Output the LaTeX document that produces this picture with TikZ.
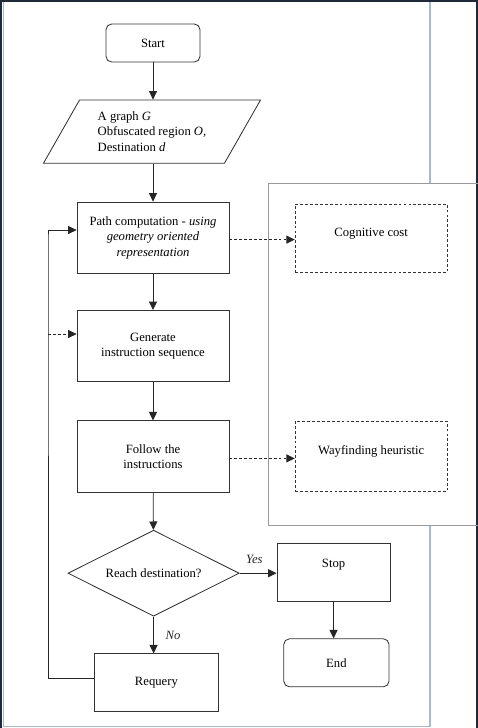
\documentclass[tikz,border=0pt]{standalone}
\usepackage{fontspec}
\setmainfont{Liberation Serif}
\definecolor{framedark}{HTML}{1E2A3A}
\definecolor{frameblue}{HTML}{A9B9CC}
\definecolor{panelgrey}{HTML}{9A9A9A}
\usetikzlibrary{arrows.meta,positioning,shapes.geometric,calc}

\begin{document}
\begin{tikzpicture}[
  font=\fontsize{9}{11}\selectfont,
  proc/.style={rectangle, draw=black!80, line width=0.6pt, minimum width=3.8cm,
    minimum height=1.78cm, align=center, inner sep=2pt},
  term/.style={rectangle, draw=black!80, line width=0.6pt, rounded corners=4pt,
    align=center},
  cost/.style={rectangle, draw=black!80, line width=0.6pt, dash pattern=on 2pt off 1.5pt,
    minimum width=3.8cm, align=center},
  io/.style={trapezium, trapezium left angle=57, trapezium right angle=123,
    trapezium stretches=true, draw=black!80, line width=0.6pt, align=left,
    minimum width=5.43cm, minimum height=1.58cm, inner sep=1pt},
  decide/.style={diamond, draw=black!80, line width=0.6pt, aspect=2, inner sep=0pt,
    minimum width=4.28cm, minimum height=2.15cm, align=center},
  arr/.style={-{Triangle[length=2.1mm,width=2mm]}, line width=0.6pt, black!85},
  darr/.style={arr, dash pattern=on 2pt off 1.5pt}
]
  % frame and side panel
  \useasboundingbox (0,0) rectangle (11.95,-18.2);
  \draw[framedark, line width=1.2pt] (0.02,-18.2) -- (0.02,-0.02) -- (11.93,-0.02) -- (11.93,-18.2);
  \draw[frameblue, line width=0.8pt] (0.09,-0.05) -- (0.09,-18.16) -- (10.75,-18.16) -- (10.75,-13.13);
  \draw[frameblue, line width=0.8pt] (10.75,-0.05) -- (10.75,-4.58);
  \draw[panelgrey, line width=0.6pt] (6.7,-4.58) rectangle (11.95,-13.13);

  \node[term, minimum width=2.35cm, minimum height=0.95cm] (start) at (3.825,-1.075) {Start};
  \node[io] (input) at (3.8,-3.29) {A graph \textit{G}\\Obfuscated region \textit{O},\\Destination \textit{d}};
  \node[proc] (path) at (3.825,-5.94) {Path computation - \textit{using}\\\textit{geometry oriented}\\\textit{representation}};
  \node[proc] (gen) at (3.825,-8.65) {Generate\\instruction sequence};
  \node[proc] (follow) at (3.825,-11.41) {Follow the\\instructions};
  \node[decide] (reach) at (3.84,-14.33) {Reach destination?};
  \node[proc, minimum width=3.08cm, minimum height=1.45cm] (requery) at (3.91,-17.07) {Requery};
  \node[proc, minimum width=2.83cm, minimum height=1.45cm] (stop) at (8.34,-14.3) {Stop\\[2pt]~};
  \node[term, minimum width=2.63cm, minimum height=1.2cm] (end) at (8.41,-16.57) {End};
  \node[cost, minimum height=1.7cm] (cog) at (9.28,-5.95) {Cognitive cost\\[-3.5pt]~};
  \node[cost, minimum height=1.75cm] (way) at (9.28,-11.4) {Wayfinding heuristic\\[-2pt]~};

  \coordinate (loopx) at (1.2,0);

  \draw[arr] (start) -- (start |- input.north);
  \draw[arr] (start |- input.south) -- (path);
  \draw[arr] (path) -- (gen);
  \draw[arr] (gen) -- (follow);
  \draw[arr] (follow) -- (reach);
  \draw[arr] (reach) -- node[right=5pt, font=\fontsize{9}{11}\selectfont\itshape] {No} (reach |- requery.north);
  \draw[arr] (reach) -- node[above=3pt, pos=0.4, font=\fontsize{9}{11}\selectfont\itshape] {Yes} (reach -| stop.west);
  \draw[arr] (stop) -- (stop |- end.north);
  \draw[darr] ([yshift=-0.05cm]path.east) -- ([yshift=-0.05cm]path.east -| cog.west);
  \draw[darr] ([yshift=-0.05cm]follow.east) -- ([yshift=-0.05cm]follow.east -| way.west);
  % requery loop back to path computation
  \draw[arr] ([yshift=0.1cm]requery.west) -| (loopx |- path) |- ([yshift=0.19cm]path.west);
  \draw[darr] ([yshift=0.3cm]gen.west -| loopx) -- ([yshift=0.3cm]gen.west);
\end{tikzpicture}
\end{document}
